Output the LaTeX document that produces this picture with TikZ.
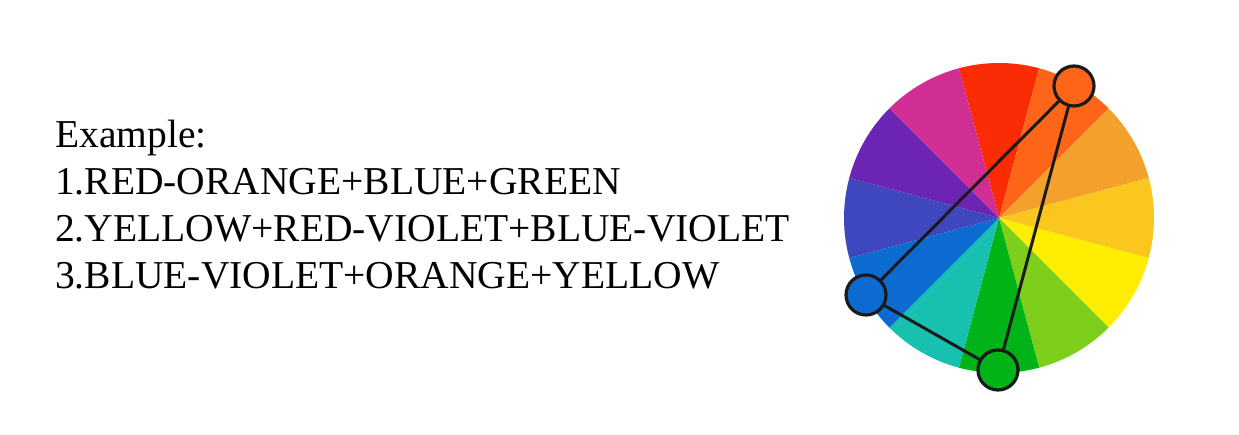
\documentclass[tikz,border=0pt]{standalone}
\usepackage{fontspec}
\setmainfont{Liberation Serif}
\definecolor{cred}{HTML}{FB2B05}
\definecolor{credorange}{HTML}{FF6518}
\definecolor{corange}{HTML}{F4A02C}
\definecolor{cyelloworange}{HTML}{FBC71F}
\definecolor{cyellow}{HTML}{FFEE00}
\definecolor{cyellowgreen}{HTML}{7DCF1C}
\definecolor{cgreen}{HTML}{00B316}
\definecolor{cteal}{HTML}{18C0B0}
\definecolor{cblue}{HTML}{0B6BD0}
\definecolor{cindigo}{HTML}{3F47BE}
\definecolor{cviolet}{HTML}{6B24B4}
\definecolor{cmagenta}{HTML}{D02E93}
\definecolor{cline}{HTML}{1A1A1A}

\begin{document}
\begin{tikzpicture}[x=1pt, y=1pt,
	txt/.style={inner sep=0pt, anchor=base west, font=\fontsize{39.5}{47}\selectfont},
	pick/.style={draw=cline, line width=3.2pt, circle, minimum size=40pt, inner sep=0pt}]
		\useasboundingbox (0,0) rectangle (1239,435);
		% text
		\node (ex)[txt] at (55,287.5) {Example:};
		\node (l1)[txt] at (55,240.5) {1.RED-ORANGE+BLUE+GREEN};
		\node (l2)[txt] at (55,193.5) {2.YELLOW+RED-VIOLET+BLUE-VIOLET};
		\node (l3)[txt] at (55,146.5) {3.BLUE-VIOLET+ORANGE+YELLOW};
		% wheel
		\coordinate (c) at (999,217);
		\foreach \a/\col in {75/cred, 45/credorange, 15/corange, -15/cyelloworange, -45/cyellow, -75/cyellowgreen, -105/cgreen, -135/cteal, -165/cblue, 165/cindigo, 135/cviolet, 105/cmagenta}
			\fill[\col] (c) -- ++(\a:155) arc[start angle=\a, delta angle=30, radius=155] -- cycle;
		% triad
		\node (ro)[pick, fill=credorange] at (1074,349) {};
		\node (bl)[pick, fill=cblue] at (866,140) {};
		\node (gr)[pick, fill=cgreen] at (998,65) {};
		\draw [cline, line width=3pt](ro)--(bl);
		\draw [cline, line width=3pt](ro)--(gr);
		\draw [cline, line width=3pt](bl)--(gr);
	\end{tikzpicture}
\end{document}
